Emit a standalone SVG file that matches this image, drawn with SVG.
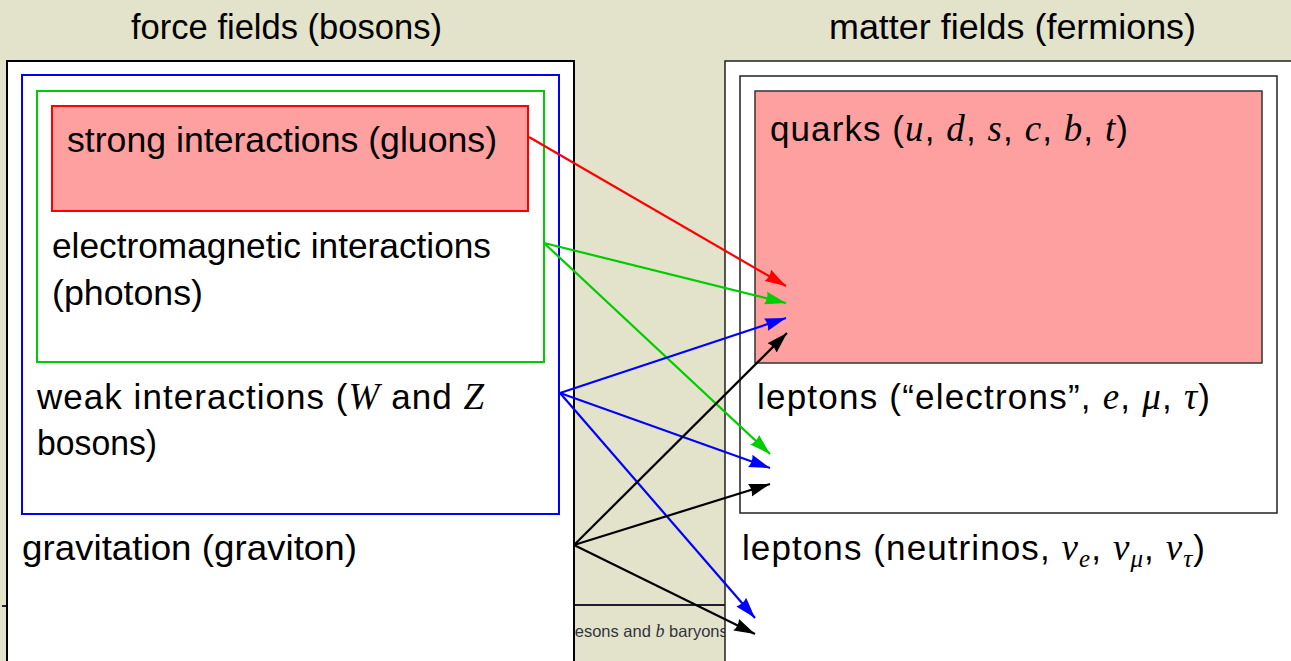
<svg xmlns="http://www.w3.org/2000/svg" width="1291" height="661" viewBox="0 0 1291 661">
  <defs>
    <style>
      .t { font-family: "Liberation Sans", Arial, sans-serif; font-size: 35px; fill: #000; }
      .m { font-family: "Liberation Serif", "Times New Roman", serif; font-style: italic; font-size: 37px; }
      .sub { font-size: 25px; }
      .conn { fill: none; stroke-width: 2.2; }
      .bg { font-family: "Liberation Sans", Arial, sans-serif; font-size: 16.5px; fill: #333340; }
      .bgm { font-family: "Liberation Serif", "Times New Roman", serif; font-style: italic; font-size: 18px; }
    </style>
    <marker id="ah-red" markerUnits="userSpaceOnUse" markerWidth="22" markerHeight="16" viewBox="0 0 22 16" refX="21" refY="8" orient="auto"><path d="M0,1.5 L21,8 L0,14.5 Q3,8 0,1.5 Z" fill="#ff0000"/></marker>
    <marker id="ah-green" markerUnits="userSpaceOnUse" markerWidth="22" markerHeight="16" viewBox="0 0 22 16" refX="21" refY="8" orient="auto"><path d="M0,1.5 L21,8 L0,14.5 Q3,8 0,1.5 Z" fill="#00cc00"/></marker>
    <marker id="ah-blue" markerUnits="userSpaceOnUse" markerWidth="22" markerHeight="16" viewBox="0 0 22 16" refX="21" refY="8" orient="auto"><path d="M0,1.5 L21,8 L0,14.5 Q3,8 0,1.5 Z" fill="#0000ff"/></marker>
    <marker id="ah-black" markerUnits="userSpaceOnUse" markerWidth="22" markerHeight="16" viewBox="0 0 22 16" refX="21" refY="8" orient="auto"><path d="M0,1.5 L21,8 L0,14.5 Q3,8 0,1.5 Z" fill="#000000"/></marker>
    <clipPath id="gap"><rect x="575" y="590" width="150" height="71"/></clipPath>
  </defs>

  <rect x="0" y="0" width="1291" height="661" fill="#e3e3cb"/>

  <g id="background-slide">
    <line x1="2" y1="606" x2="8" y2="606" stroke="#1e1e30" stroke-width="2"/>
    <line x1="575" y1="605" x2="725" y2="605" stroke="#1e1e30" stroke-width="2"/>
    <text class="bg" x="561" y="637" clip-path="url(#gap)">mesons and <tspan class="bgm">b</tspan> baryons with</text>
  </g>

  <g id="titles">
    <text class="t" x="131" y="39" textLength="311" lengthAdjust="spacingAndGlyphs">force fields (bosons)</text>
    <text class="t" x="829" y="39" textLength="367" lengthAdjust="spacingAndGlyphs">matter fields (fermions)</text>
  </g>

  <g id="force-fields">
    <rect x="7" y="61" width="567" height="620" fill="#ffffff" stroke="#000" stroke-width="2"/>
  </g>
  <g id="gravitation">
    <text class="t" x="22" y="560" textLength="335" lengthAdjust="spacingAndGlyphs">gravitation (graviton)</text>
  </g>
  <g id="weak">
    <rect x="22" y="75" width="537" height="439" fill="#ffffff" stroke="#0000ff" stroke-width="2"/>
    <text class="t" x="37" y="409" textLength="447" lengthAdjust="spacing">weak interactions (<tspan class="m">W</tspan> and <tspan class="m">Z</tspan></text>
    <text class="t" x="37" y="455" textLength="120" lengthAdjust="spacingAndGlyphs">bosons)</text>
  </g>
  <g id="electromagnetic">
    <rect x="37" y="91" width="507" height="271" fill="#ffffff" stroke="#00cc00" stroke-width="2"/>
    <text class="t" x="52" y="258" textLength="439" lengthAdjust="spacingAndGlyphs">electromagnetic interactions</text>
    <text class="t" x="52" y="305" textLength="151" lengthAdjust="spacingAndGlyphs">(photons)</text>
  </g>
  <g id="strong">
    <rect x="52" y="106" width="476" height="105" fill="#ffa0a0" stroke="#ff0000" stroke-width="2"/>
    <text class="t" x="67" y="152" textLength="430" lengthAdjust="spacingAndGlyphs">strong interactions (gluons)</text>
  </g>

  <g id="matter-fields">
    <rect x="725" y="61" width="580" height="620" fill="#ffffff" stroke="#222" stroke-width="1.5"/>
  </g>
  <g id="neutrinos">
    <text class="t" x="742" y="560" textLength="463" lengthAdjust="spacing">leptons (neutrinos, <tspan class="m">ν</tspan><tspan class="m sub" dy="7">e</tspan><tspan dy="-7">, </tspan><tspan class="m">ν</tspan><tspan class="m sub" dy="7">μ</tspan><tspan dy="-7">, </tspan><tspan class="m">ν</tspan><tspan class="m sub" dy="7">τ</tspan><tspan dy="-7">)</tspan></text>
  </g>
  <g id="charged-leptons">
    <rect x="740" y="76" width="537" height="437" fill="#ffffff" stroke="#222" stroke-width="1.5"/>
    <text class="t" x="757" y="409" textLength="453" lengthAdjust="spacing">leptons (“electrons”, <tspan class="m">e</tspan>, <tspan class="m">μ</tspan>, <tspan class="m">τ</tspan>)</text>
  </g>
  <g id="quarks">
    <rect x="755" y="91" width="507" height="272" fill="#ffa0a0" stroke="#333" stroke-width="1.5"/>
    <text class="t" x="770" y="141" textLength="358" lengthAdjust="spacing">quarks (<tspan class="m">u</tspan>, <tspan class="m">d</tspan>, <tspan class="m">s</tspan>, <tspan class="m">c</tspan>, <tspan class="m">b</tspan>, <tspan class="m">t</tspan>)</text>
  </g>

  <g id="connectors">
    <line class="conn" x1="529" y1="137" x2="786" y2="286" stroke="#ff0000" marker-end="url(#ah-red)"/>
    <line class="conn" x1="544" y1="243" x2="786" y2="303" stroke="#00cc00" marker-end="url(#ah-green)"/>
    <line class="conn" x1="544" y1="243" x2="770" y2="454" stroke="#00cc00" marker-end="url(#ah-green)"/>
    <line class="conn" x1="560" y1="393" x2="786" y2="318" stroke="#0000ff" marker-end="url(#ah-blue)"/>
    <line class="conn" x1="560" y1="393" x2="770" y2="468" stroke="#0000ff" marker-end="url(#ah-blue)"/>
    <line class="conn" x1="560" y1="393" x2="755" y2="618" stroke="#0000ff" marker-end="url(#ah-blue)"/>
    <line class="conn" x1="574" y1="545" x2="787" y2="333" stroke="#000000" marker-end="url(#ah-black)"/>
    <line class="conn" x1="574" y1="545" x2="770" y2="484" stroke="#000000" marker-end="url(#ah-black)"/>
    <line class="conn" x1="574" y1="545" x2="755" y2="634" stroke="#000000" marker-end="url(#ah-black)"/>
  </g>
</svg>
